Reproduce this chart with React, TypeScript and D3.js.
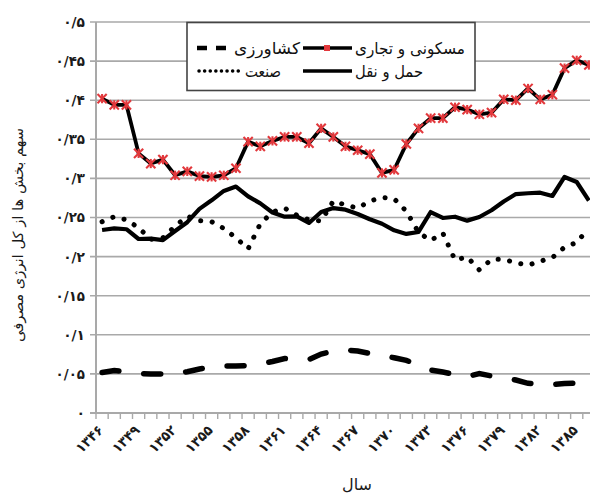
import React from "react";
import * as d3 from "d3";

const years = [1346,1347,1348,1349,1350,1351,1352,1353,1354,1355,1356,1357,1358,1359,1360,1361,1362,1363,1364,1365,1366,1367,1368,1369,1370,1371,1372,1373,1374,1375,1376,1377,1378,1379,1380,1381,1382,1383,1384,1385,1386];
const residential = [0.402,0.394,0.394,0.332,0.319,0.324,0.304,0.309,0.303,0.302,0.304,0.313,0.347,0.341,0.348,0.353,0.353,0.345,0.364,0.353,0.341,0.336,0.331,0.307,0.311,0.344,0.364,0.377,0.377,0.391,0.388,0.382,0.384,0.401,0.400,0.415,0.401,0.407,0.441,0.451,0.445];
const transport = [0.234,0.236,0.235,0.2225,0.223,0.221,0.2327,0.244,0.261,0.272,0.284,0.2896,0.277,0.268,0.2564,0.2511,0.2515,0.243,0.257,0.262,0.260,0.2545,0.2477,0.242,0.2336,0.229,0.2315,0.257,0.2494,0.251,0.246,0.2506,0.2593,0.2705,0.280,0.281,0.2817,0.2775,0.3018,0.2954,0.2717];
const industry = [0.2446,0.251,0.247,0.237,0.222,0.224,0.239,0.2515,0.246,0.2446,0.236,0.224,0.210,0.242,0.257,0.262,0.253,0.247,0.2455,0.271,0.266,0.262,0.271,0.2756,0.274,0.258,0.231,0.2206,0.230,0.1957,0.1995,0.1829,0.1965,0.1965,0.192,0.189,0.194,0.1988,0.212,0.218,0.2366];
const agriculture = [0.0518,0.0543,0.0524,0.0503,0.0499,0.0499,0.0505,0.0528,0.0563,0.0588,0.0601,0.0601,0.0607,0.0627,0.0659,0.0697,0.069,0.0684,0.0754,0.0793,0.0806,0.0793,0.0761,0.0742,0.0706,0.0673,0.0614,0.055,0.0524,0.0492,0.0464,0.0505,0.0473,0.0454,0.0422,0.038,0.0371,0.0364,0.0377,0.0384,0.0384];

const yTicks = [0,0.05,0.1,0.15,0.2,0.25,0.3,0.35,0.4,0.45,0.5];
const yTickLabels = ["۰","۰/۰۵","۰/۱","۰/۱۵","۰/۲","۰/۲۵","۰/۳","۰/۳۵","۰/۴","۰/۴۵","۰/۵"];
const xLabelYears = [1346,1349,1352,1355,1358,1361,1364,1367,1370,1373,1376,1379,1382,1385];
const xTickLabels = ["۱۳۴۶","۱۳۴۹","۱۳۵۲","۱۳۵۵","۱۳۵۸","۱۳۶۱","۱۳۶۴","۱۳۶۷","۱۳۷۰","۱۳۷۳","۱۳۷۶","۱۳۷۹","۱۳۸۲","۱۳۸۵"];
const legendNames = ["کشاورزی","صنعت","مسکونی و تجاری","حمل و نقل"];
const yTitle = "سهم بخش ها از کل انرژی مصرفی";
const xTitle = "سال";

const W = 590, H = 496;
const FONT = "DejaVu Sans";

export default function App() {
  const x = d3.scaleBand<number>().domain(years).range([96, 96 + 41 * 12.17]).padding(0);
  const cx = (yr: number) => (x(yr) as number) + x.bandwidth() / 2;
  const y = d3.scaleLinear().domain([0, 0.5]).range([413, 22]);
  const mk = (vals: number[]) =>
    d3.line<number>().x((_, i) => cx(years[i])).y((v) => y(v))(vals) as string;

  const grid = "#a9a9a9";
  const boundaries = d3.range(years.length + 1).map((k) => 96 + k * x.bandwidth());
  const red = "#e2383c";

  const star = (px: number, py: number, key: string | number, s = 4.6) => (
    <g key={key} stroke={red} strokeWidth={2.1}>
      <line x1={px - s} y1={py - s} x2={px + s} y2={py + s} />
      <line x1={px - s} y1={py + s} x2={px + s} y2={py - s} />
      <line x1={px} y1={py - s} x2={px} y2={py + s} />
    </g>
  );

  return (
    <svg width={W} height={H} style={{ position: "absolute", left: 0, top: 0, background: "#fff" }} fontFamily={FONT}>
      <rect x={0} y={0} width={W} height={H} fill="#fff" />
      {yTicks.map((t) => (
        <line key={t} x1={90} x2={W} y1={y(t)} y2={y(t)} stroke={grid} strokeWidth={t === 0 ? 2 : 1.6} />
      ))}
      <line x1={96} x2={96} y1={y(0.5)} y2={y(0)} stroke={grid} strokeWidth={2} />
      {boundaries.map((b, i) => (
        <line key={i} x1={b} x2={b} y1={413} y2={419} stroke={grid} strokeWidth={1.4} />
      ))}
      {yTicks.map((t, i) => {
        const n = yTickLabels[i].length;
        const extra = n > 1 ? { textLength: 7.6 * n - 1, lengthAdjust: "spacingAndGlyphs" } : {};
        return (
          <text key={t} x={85} y={y(t)} dy="0.35em" textAnchor="end" fontSize={14} fontWeight="bold" fill="#1a1a1a" {...extra}>
            {yTickLabels[i]}
          </text>
        );
      })}
      {xLabelYears.map((yr, i) => (
        <text
          key={yr}
          transform={`translate(${cx(yr) + 2},${431}) rotate(-45)`}
          textAnchor="end"
          fontSize={14}
          fontWeight="bold"
          fill="#1a1a1a"
          textLength={32}
          lengthAdjust="spacingAndGlyphs"
        >
          {xTickLabels[i]}
        </text>
      ))}
      <text transform={`translate(23,235) rotate(-90)`} textAnchor="middle" fontSize={14} fill="#1a1a1a"
        textLength={214} lengthAdjust="spacingAndGlyphs">
        {yTitle}
      </text>
      <text x={357} y={490} textAnchor="middle" fontSize={16} fill="#1a1a1a">
        {xTitle}
      </text>

      <path d={mk(agriculture)} fill="none" stroke="#000" strokeWidth={5.5} strokeDasharray="17 25" strokeLinecap="round" />
      <path d={mk(industry)} fill="none" stroke="#000" strokeWidth={5} strokeDasharray="0.1 11.5" strokeLinecap="round" />
      <path d={mk(transport)} fill="none" stroke="#000" strokeWidth={4.2} strokeLinejoin="round" />
      <path d={mk(residential)} fill="none" stroke="#000" strokeWidth={3.8} strokeLinejoin="round" />
      {residential.map((v, i) => star(cx(years[i]), y(v), i))}

      <rect x={187} y={22.5} width={288} height={68} fill="#fff" stroke="#444" strokeWidth={1.6} />
      <line x1={197} x2={232} y1={48} y2={48} stroke="#000" strokeWidth={4.5} strokeDasharray="10 9" strokeLinecap="butt" />
      <text x={234} y={48} dy="0.35em" fontSize={16} fill="#111" textLength={66} lengthAdjust="spacingAndGlyphs">{legendNames[0]}</text>
      <line x1={199} x2={242} y1={71} y2={71} stroke="#000" strokeWidth={3.5} strokeDasharray="0.1 5.5" strokeLinecap="round" />
      <text x={245} y={71} dy="0.35em" fontSize={16} fill="#111" textLength={36} lengthAdjust="spacingAndGlyphs">{legendNames[1]}</text>
      <line x1={303} x2={352} y1={48} y2={48} stroke="#000" strokeWidth={3.5} />
      <rect x={324} y={45} width={6} height={6} fill={red} />
      <text x={355} y={48} dy="0.35em" fontSize={16} fill="#111" textLength={110} lengthAdjust="spacingAndGlyphs">{legendNames[2]}</text>
      <line x1={303} x2={352} y1={71} y2={71} stroke="#000" strokeWidth={3.5} />
      <text x={355} y={71} dy="0.35em" fontSize={16} fill="#111" textLength={68} lengthAdjust="spacingAndGlyphs">{legendNames[3]}</text>
    </svg>
  );
}
